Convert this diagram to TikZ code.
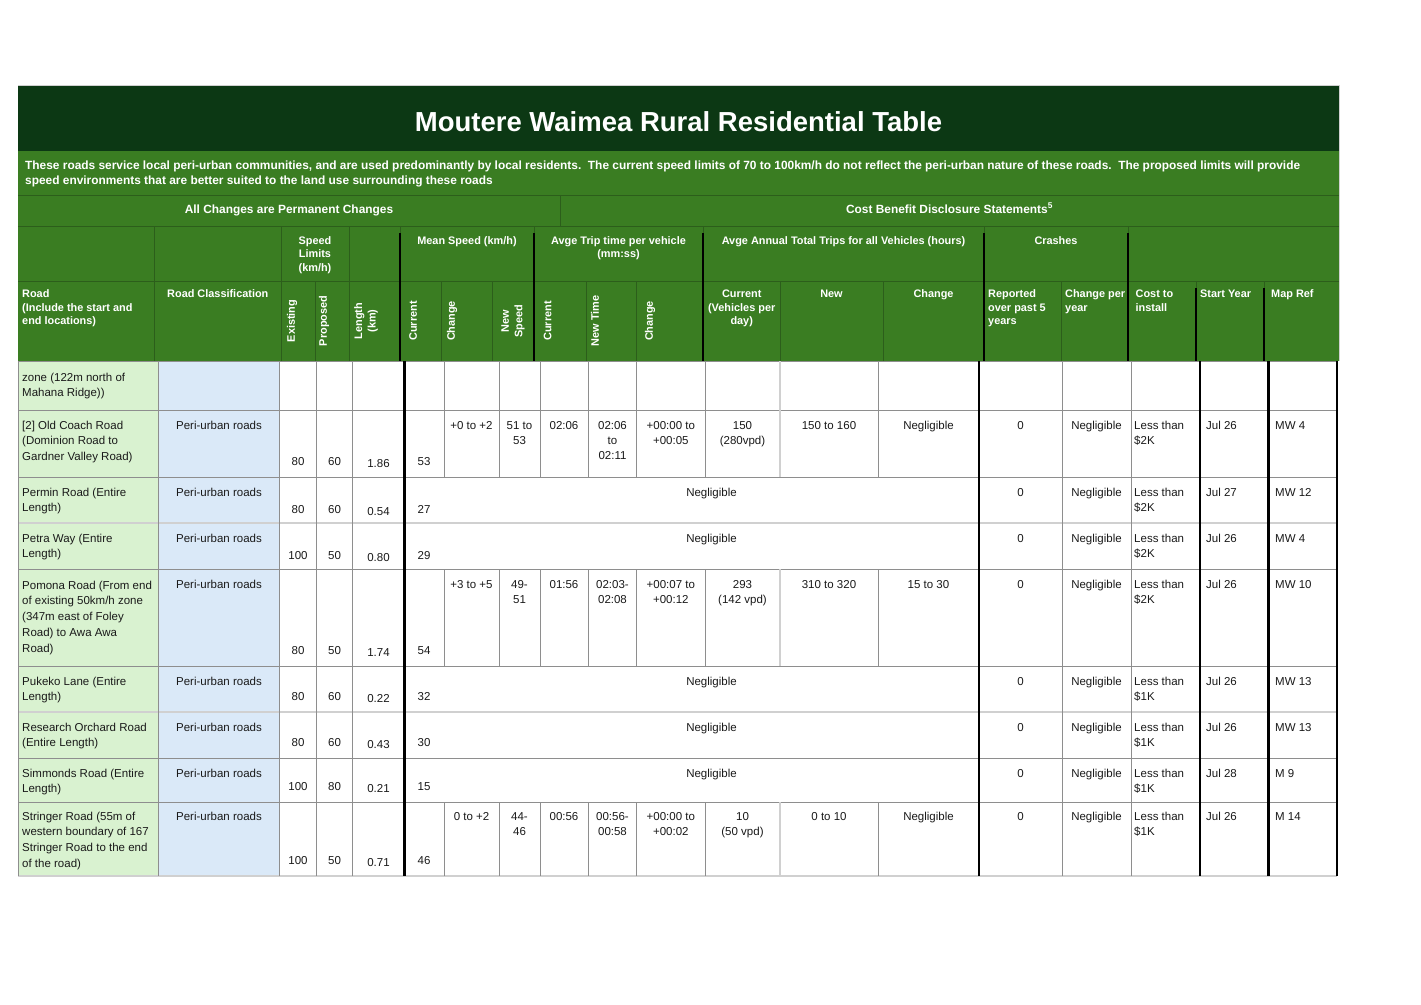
\documentclass[tikz,border=0pt]{standalone}
\usepackage{fontspec}
\setmainfont{Liberation Sans}
\definecolor{titlegreen}{HTML}{0C3814}
\definecolor{hgreen}{HTML}{3A7D22}
\definecolor{hgridc}{HTML}{2C5E1B}
\definecolor{lgreen}{HTML}{D9F2D0}
\definecolor{lblue}{HTML}{DAE9F8}
\definecolor{dgridc}{HTML}{8E8E8E}
\definecolor{dgridlc}{HTML}{D0D0D0}
\definecolor{txt}{HTML}{1A1A1A}
\newcommand\dfont{\fontsize{11.5}{15}\selectfont}
\newcommand\nfont{\fontsize{11.5}{15.7}\selectfont}
\newcommand\hfont{\fontsize{10.9}{13.6}\selectfont\bfseries}
\newcommand\descfont{\fontsize{11.9}{15}\selectfont\bfseries}
\tikzset{
  dc/.style={font=\dfont, text=txt, inner sep=0pt, anchor=north, yshift=10.5pt, align=center},
  dl/.style={dc, anchor=north west, align=left},
  nm/.style={font=\nfont, text=txt, inner sep=0pt, anchor=north west, yshift=10.99pt, align=left},
  hc/.style={font=\hfont, text=white, inner sep=0pt, anchor=north, yshift=9.52pt, align=center},
  hl/.style={hc, anchor=north west, align=left},
  hr/.style={font=\hfont, text=white, inner sep=0pt, rotate=90, align=center, anchor=center},
  hgrid/.style={draw=hgridc, line width=1pt},
  dgrid/.style={draw=dgridc, line width=1pt},
  dgridl/.style={draw=dgridlc, line width=2.2pt},
  thickb/.style={draw=black, line width=2.6pt},
}
\begin{document}
\begin{tikzpicture}[x=1pt,y=-1pt]
\useasboundingbox[fill=white] (0,0) rectangle (1421,1004);
% ---------- backgrounds ----------
\fill[titlegreen] (18,85) rectangle (1339,151);
\fill[hgreen] (18,151) rectangle (1339,361);
\fill[lgreen] (18,361) rectangle (158.7,876);
\fill[lblue] (158.7,361) rectangle (279.3,876);
% ---------- header grid ----------
\foreach \y in {195,226,281} \draw[hgrid] (18,\y) -- (1339,\y);
\draw[hgrid] (560,195) -- (560,226);
\foreach \x in {154,281.5,349,400,534,703,984,1128} \draw[hgrid] (\x,226) -- (\x,281);
\foreach \x in {154,281.5,315,349,400,441.7,492.7,534,586,636.7,703,780,883,984,1061,1128,1196,1264} \draw[hgrid] (\x,281) -- (\x,361);
\foreach \x in {400,534,703,984,1128} \draw[thickb] (\x,233) -- (\x,361);
\foreach \x in {1196,1264} \draw[thickb] (\x,288) -- (\x,361);
\draw[draw=dgridlc, line width=1pt] (18,85) -- (1339,85) -- (1339,361);
% ---------- data grid ----------
\foreach \y in {361,410,477,569,666,758,802} \draw[dgrid] (18,\y) -- (1337,\y);
\foreach \y in {523,712,876} \draw[dgridl] (18,\y) -- (1337,\y);
\foreach \x in {18,158.7,279.3,316.8,352.5,1062,1131} \draw[dgrid] (\x,361) -- (\x,876);
\foreach \x in {444,499,540,588.3,636.7,705,878} {
  \draw[dgrid] (\x,361) -- (\x,477);
  \draw[dgrid] (\x,569) -- (\x,666);
  \draw[dgrid] (\x,802) -- (\x,876);
}
\foreach \x in {780} {
  \draw[dgridl, line width=1.2pt] (\x,361) -- (\x,477);
  \draw[dgridl, line width=1.2pt] (\x,569) -- (\x,666);
  \draw[dgridl, line width=1.2pt] (\x,802) -- (\x,876);
}
\draw[thickb, line width=3pt] (404.5,361) -- (404.5,876);
\foreach \x in {979,1200,1268.5,1337} \draw[thickb] (\x,361) -- (\x,876);
% ---------- title and header texts ----------
\node[font=\fontsize{27.5}{33}\selectfont\bfseries, text=white, inner sep=0pt, anchor=base] (title) at (678.5,131) {Moutere Waimea Rural Residential Table};
\node[font=\descfont, text=white, inner sep=0pt, anchor=base west] (desc1) at (25,169) {These roads service local peri-urban communities, and are used predominantly by local residents.\ \ The current speed limits of 70 to 100km/h do not reflect the peri-urban nature of these roads.\ \ The proposed limits will provide};
\node[font=\descfont, text=white, inner sep=0pt, anchor=base west] (desc2) at (25,184) {speed environments that are better suited to the land use surrounding these roads};
\node[font=\descfont, text=white, inner sep=0pt, anchor=base] (allch) at (289,213) {All Changes are Permanent Changes};
\node[font=\descfont, text=white, inner sep=0pt, anchor=base] (cbds) at (949.5,213) {Cost Benefit Disclosure Statements\textsuperscript{5}};
% header row 1
\node[hc] (h1a) at (315,244) {\strut Speed\\Limits\\(km/h)};
\node[hc] (h1b) at (467,244) {\strut Mean Speed (km/h)};
\node[hc] (h1c) at (618.5,244) {\strut Avge Trip time per vehicle\\(mm:ss)};
\node[hc] (h1d) at (843.5,244) {\strut Avge Annual Total Trips for all Vehicles (hours)};
\node[hc] (h1e) at (1056,244) {\strut Crashes};
% header row 2
\node[hl] (h2a) at (22,297.5) {\strut Road\\(Include the start and\\end locations)};
\node[hc] (h2b) at (217.8,297.5) {\strut Road Classification};
\node[hr] (h2c) at (292,321) {Existing};
\node[hr] (h2d) at (324,321) {Proposed};
\node[hr] (h2e) at (366,321) {Length\\(km)};
\node[hr] (h2f) at (413,321) {Current};
\node[hr] (h2g) at (452,321) {Change};
\node[hr] (h2h) at (513,321) {New\\Speed};
\node[hr] (h2i) at (547.6,321) {Current};
\node[hr] (h2j) at (595,321) {New Time};
\node[hr] (h2k) at (650,321) {Change};
\node[hc] (h2l) at (741.7,297.5) {\strut Current\\(Vehicles per\\day)};
\node[hc] (h2m) at (831.5,297.5) {\strut New};
\node[hc] (h2n) at (933.5,297.5) {\strut Change};
\node[hl] (h2o) at (988,297.5) {\strut Reported\\over past 5\\years};
\node[hl] (h2p) at (1065,297.5) {\strut Change per\\year};
\node[hl] (h2q) at (1135.5,297.5) {\strut Cost to\\install};
\node[hl] (h2r) at (1200,297.5) {\strut Start Year};
\node[hl] (h2s) at (1271,297.5) {\strut Map Ref};
% ---------- data rows ----------
% row 0
\node[nm] (r0n) at (22,381) {\strut zone (122m north of\\Mahana Ridge))};
% row 1: Old Coach Road
\node[nm] (r1n) at (22,429) {\strut [2] Old Coach Road\\(Dominion Road to\\Gardner Valley Road)};
\node[dc] (r1c) at (219,429) {\strut Peri-urban roads};
\node[dc] (r1e) at (298,465.7) {\strut 80};
\node[dc] (r1p) at (334.6,465.7) {\strut 60};
\node[dc] (r1l) at (378.5,467.7) {\strut 1.86};
\node[dc] (r1m) at (424,465.7) {\strut 53};
\node[dc] (r1a) at (471.5,429) {\strut +0 to +2};
\node[dc] (r1b) at (519.5,429) {\strut 51 to\\53};
\node[dc] (r1t) at (564,429) {\strut 02:06};
\node[dc] (r1u) at (612.5,429) {\strut 02:06\\to\\02:11};
\node[dc] (r1v) at (670.8,429) {\strut +00:00 to\\+00:05};
\node[dc] (r1w) at (742.5,429) {\strut 150\\(280vpd)};
\node[dc] (r1x) at (829,429) {\strut 150 to 160};
\node[dc] (r1y) at (928.5,429) {\strut Negligible};
\node[dc] (r1z) at (1020.5,429) {\strut 0};
\node[dc] (r1q) at (1096.5,429) {\strut Negligible};
\node[dl] (r1k) at (1134,429) {\strut Less than\\\$2K};
\node[dl] (r1s) at (1206,429) {\strut Jul 26};
\node[dl] (r1r) at (1275,429) {\strut MW 4};
% row 2: Permin
\node[nm] (r2n) at (22,496) {\strut Permin Road (Entire\\Length)};
\node[dc] (r2c) at (219,496) {\strut Peri-urban roads};
\node[dc] (r2e) at (298,513) {\strut 80};
\node[dc] (r2p) at (334.6,513) {\strut 60};
\node[dc] (r2l) at (378.5,515) {\strut 0.54};
\node[dc] (r2m) at (424,513) {\strut 27};
\node[dc] (r2g) at (711.5,496) {\strut Negligible};
\node[dc] (r2z) at (1020.5,496) {\strut 0};
\node[dc] (r2q) at (1096.5,496) {\strut Negligible};
\node[dl] (r2k) at (1134,496) {\strut Less than\\\$2K};
\node[dl] (r2s) at (1206,496) {\strut Jul 27};
\node[dl] (r2r) at (1275,496) {\strut MW 12};
% row 3: Petra
\node[nm] (r3n) at (22,542) {\strut Petra Way (Entire\\Length)};
\node[dc] (r3c) at (219,542) {\strut Peri-urban roads};
\node[dc] (r3e) at (298,559) {\strut 100};
\node[dc] (r3p) at (334.6,559) {\strut 50};
\node[dc] (r3l) at (378.5,561) {\strut 0.80};
\node[dc] (r3m) at (424,559) {\strut 29};
\node[dc] (r3g) at (711.5,542) {\strut Negligible};
\node[dc] (r3z) at (1020.5,542) {\strut 0};
\node[dc] (r3q) at (1096.5,542) {\strut Negligible};
\node[dl] (r3k) at (1134,542) {\strut Less than\\\$2K};
\node[dl] (r3s) at (1206,542) {\strut Jul 26};
\node[dl] (r3r) at (1275,542) {\strut MW 4};
% row 4: Pomona
\node[nm] (r4n) at (22,589) {\strut Pomona Road (From end\\of existing 50km/h zone\\(347m east of Foley\\Road) to Awa Awa\\Road)};
\node[dc] (r4c) at (219,588) {\strut Peri-urban roads};
\node[dc] (r4e) at (298,654) {\strut 80};
\node[dc] (r4p) at (334.6,654) {\strut 50};
\node[dc] (r4l) at (378.5,656) {\strut 1.74};
\node[dc] (r4m) at (424,654) {\strut 54};
\node[dc] (r4a) at (471.5,588) {\strut +3 to +5};
\node[dc] (r4b) at (519.5,588) {\strut 49-\\51};
\node[dc] (r4t) at (564,588) {\strut 01:56};
\node[dc] (r4u) at (612.5,588) {\strut 02:03-\\02:08};
\node[dc] (r4v) at (670.8,588) {\strut +00:07 to\\+00:12};
\node[dc] (r4w) at (742.5,588) {\strut 293\\(142 vpd)};
\node[dc] (r4x) at (829,588) {\strut 310 to 320};
\node[dc] (r4y) at (928.5,588) {\strut 15 to 30};
\node[dc] (r4z) at (1020.5,588) {\strut 0};
\node[dc] (r4q) at (1096.5,588) {\strut Negligible};
\node[dl] (r4k) at (1134,588) {\strut Less than\\\$2K};
\node[dl] (r4s) at (1206,588) {\strut Jul 26};
\node[dl] (r4r) at (1275,588) {\strut MW 10};
% row 5: Pukeko
\node[nm] (r5n) at (22,685) {\strut Pukeko Lane (Entire\\Length)};
\node[dc] (r5c) at (219,685) {\strut Peri-urban roads};
\node[dc] (r5e) at (298,700.7) {\strut 80};
\node[dc] (r5p) at (334.6,700.7) {\strut 60};
\node[dc] (r5l) at (378.5,702.7) {\strut 0.22};
\node[dc] (r5m) at (424,700.7) {\strut 32};
\node[dc] (r5g) at (711.5,685) {\strut Negligible};
\node[dc] (r5z) at (1020.5,685) {\strut 0};
\node[dc] (r5q) at (1096.5,685) {\strut Negligible};
\node[dl] (r5k) at (1134,685) {\strut Less than\\\$1K};
\node[dl] (r5s) at (1206,685) {\strut Jul 26};
\node[dl] (r5r) at (1275,685) {\strut MW 13};
% row 6: Research Orchard
\node[nm] (r6n) at (22,731) {\strut Research Orchard Road\\(Entire Length)};
\node[dc] (r6c) at (219,731) {\strut Peri-urban roads};
\node[dc] (r6e) at (298,746.7) {\strut 80};
\node[dc] (r6p) at (334.6,746.7) {\strut 60};
\node[dc] (r6l) at (378.5,748.7) {\strut 0.43};
\node[dc] (r6m) at (424,746.7) {\strut 30};
\node[dc] (r6g) at (711.5,731) {\strut Negligible};
\node[dc] (r6z) at (1020.5,731) {\strut 0};
\node[dc] (r6q) at (1096.5,731) {\strut Negligible};
\node[dl] (r6k) at (1134,731) {\strut Less than\\\$1K};
\node[dl] (r6s) at (1206,731) {\strut Jul 26};
\node[dl] (r6r) at (1275,731) {\strut MW 13};
% row 7: Simmonds
\node[nm] (r7n) at (22,777) {\strut Simmonds Road (Entire\\Length)};
\node[dc] (r7c) at (219,777) {\strut Peri-urban roads};
\node[dc] (r7e) at (298,790.7) {\strut 100};
\node[dc] (r7p) at (334.6,790.7) {\strut 80};
\node[dc] (r7l) at (378.5,792.7) {\strut 0.21};
\node[dc] (r7m) at (424,790.7) {\strut 15};
\node[dc] (r7g) at (711.5,777) {\strut Negligible};
\node[dc] (r7z) at (1020.5,777) {\strut 0};
\node[dc] (r7q) at (1096.5,777) {\strut Negligible};
\node[dl] (r7k) at (1134,777) {\strut Less than\\\$1K};
\node[dl] (r7s) at (1206,777) {\strut Jul 28};
\node[dl] (r7r) at (1275,777) {\strut M 9};
% row 8: Stringer
\node[nm] (r8n) at (22,820) {\strut Stringer Road (55m of\\western boundary of 167\\Stringer Road to the end\\of the road)};
\node[dc] (r8c) at (219,820) {\strut Peri-urban roads};
\node[dc] (r8e) at (298,864) {\strut 100};
\node[dc] (r8p) at (334.6,864) {\strut 50};
\node[dc] (r8l) at (378.5,866) {\strut 0.71};
\node[dc] (r8m) at (424,864) {\strut 46};
\node[dc] (r8a) at (471.5,820) {\strut 0 to +2};
\node[dc] (r8b) at (519.5,820) {\strut 44-\\46};
\node[dc] (r8t) at (564,820) {\strut 00:56};
\node[dc] (r8u) at (612.5,820) {\strut 00:56-\\00:58};
\node[dc] (r8v) at (670.8,820) {\strut +00:00 to\\+00:02};
\node[dc] (r8w) at (742.5,820) {\strut 10\\(50 vpd)};
\node[dc] (r8x) at (829,820) {\strut 0 to 10};
\node[dc] (r8y) at (928.5,820) {\strut Negligible};
\node[dc] (r8z) at (1020.5,820) {\strut 0};
\node[dc] (r8q) at (1096.5,820) {\strut Negligible};
\node[dl] (r8k) at (1134,820) {\strut Less than\\\$1K};
\node[dl] (r8s) at (1206,820) {\strut Jul 26};
\node[dl] (r8r) at (1275,820) {\strut M 14};
\end{tikzpicture}
\end{document}
